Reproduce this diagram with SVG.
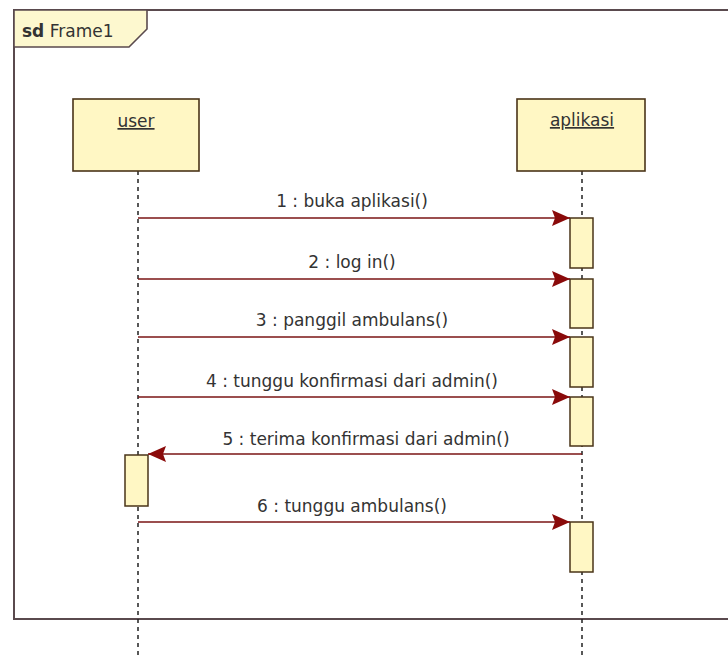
<svg xmlns="http://www.w3.org/2000/svg" width="728" height="657" viewBox="0 0 728 657">
<defs>
<style>
text{font-family:"DejaVu Sans","Liberation Sans",sans-serif;fill:#333;font-size:17px}
.lbl{text-anchor:middle}
.box{fill:#fff7c4;stroke:#4a3418;stroke-width:1.6}
.act{fill:#fff7c4;stroke:#4a3418;stroke-width:1.5}
.life{stroke:#222;stroke-width:1.5;stroke-dasharray:4 4;fill:none}
.msg{stroke:#7a1414;stroke-width:1.6;fill:none}
.frame{fill:none;stroke:#5a4a4e;stroke-width:2}
</style>
<marker id="ah" markerUnits="userSpaceOnUse" markerWidth="20" markerHeight="18" refX="18" refY="9" orient="auto">
<path d="M0,1 L18,9 L0,17 L3,9 Z" fill="#8a0a0a"/>
</marker>
</defs>
<rect width="728" height="657" fill="#fff"/>
<g id="frame">
<rect class="frame" x="14" y="10" width="720" height="609"/>
<path d="M14,10 L147,10 L147,29 L129,47 L14,47 Z" fill="#fdf8cf" stroke="#5a4a4e" stroke-width="1.6"/>
<text x="22" y="37"><tspan font-weight="bold">sd</tspan> Frame1</text>
</g>
<g id="lifelines">
<line class="life" x1="138" y1="171" x2="138" y2="657"/>
<line class="life" x1="582" y1="171" x2="582" y2="657"/>
</g>
<g id="user">
<rect class="box" x="73" y="99" width="126" height="72"/>
<text class="lbl" x="136" y="127" text-decoration="underline">user</text>
</g>
<g id="aplikasi">
<rect class="box" x="517" y="99" width="128" height="72"/>
<text class="lbl" x="582" y="126" text-decoration="underline">aplikasi</text>
</g>
<g id="activations">
<rect class="act" x="570" y="218" width="23" height="50"/>
<rect class="act" x="570" y="279" width="23" height="49"/>
<rect class="act" x="570" y="337" width="23" height="50"/>
<rect class="act" x="570" y="397" width="23" height="49"/>
<rect class="act" x="125" y="455" width="23" height="51"/>
<rect class="act" x="570" y="522" width="23" height="50"/>
</g>
<g id="connectors">
<line class="msg" x1="138" y1="218" x2="570" y2="218" marker-end="url(#ah)"/>
<line class="msg" x1="138" y1="279" x2="570" y2="279" marker-end="url(#ah)"/>
<line class="msg" x1="138" y1="337" x2="570" y2="337" marker-end="url(#ah)"/>
<line class="msg" x1="138" y1="397" x2="570" y2="397" marker-end="url(#ah)"/>
<line class="msg" x1="582" y1="454" x2="148" y2="454" marker-end="url(#ah)"/>
<line class="msg" x1="138" y1="522" x2="570" y2="522" marker-end="url(#ah)"/>
<text class="lbl" x="352" y="207">1 : buka aplikasi()</text>
<text class="lbl" x="352" y="268">2 : log in()</text>
<text class="lbl" x="352" y="326">3 : panggil ambulans()</text>
<text class="lbl" x="352" y="387">4 : tunggu konfirmasi dari admin()</text>
<text class="lbl" x="366" y="445">5 : terima konfirmasi dari admin()</text>
<text class="lbl" x="352" y="512">6 : tunggu ambulans()</text>
</g>
</svg>
